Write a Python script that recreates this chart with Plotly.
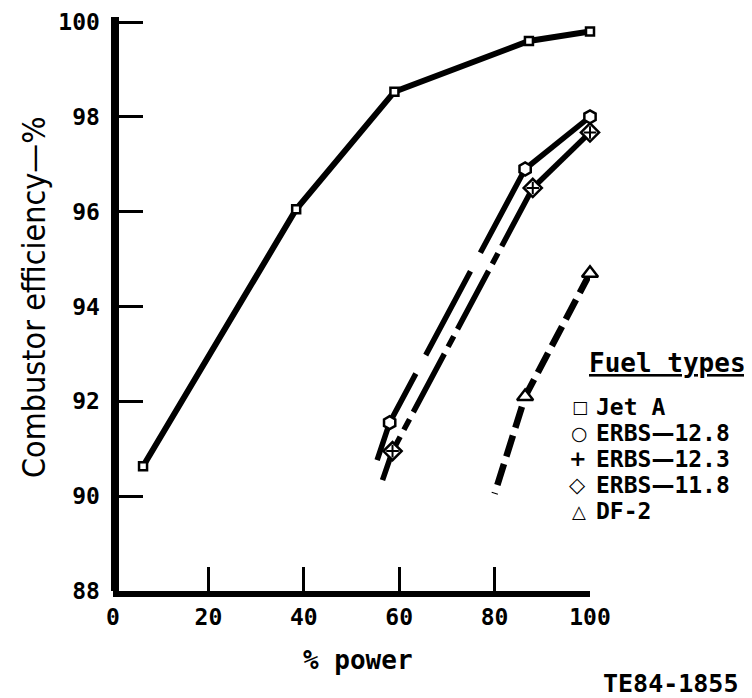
import plotly.graph_objects as go

# ---------------- data ----------------
power_jet_a = [6.3, 38.4, 59.0, 87.2, 100.0]
eff_jet_a = [90.63, 96.05, 98.53, 99.6, 99.8]

power_erbs128 = [58.0, 86.4, 100.0]
eff_erbs128 = [91.55, 96.9, 98.0]

power_erbs123 = [58.6, 88.0, 100.0]
eff_erbs123 = [90.95, 96.5, 97.67]

power_erbs118 = [58.6, 88.0, 100.0]
eff_erbs118 = [90.95, 96.5, 97.67]

power_df2 = [86.4, 100.0]
eff_df2 = [92.1, 94.7]

# faired curves (upper solid part and lower broken part)
curve128_upper_power = [100.0, 86.4]
curve128_upper_eff = [98.0, 96.9]
curve128_lower_power = [86.4, 58.0, 55.0]
curve128_lower_eff = [96.9, 91.55, 90.65]

curve_erbs_upper_power = [100.0, 88.0]
curve_erbs_upper_eff = [97.67, 96.5]
curve_erbs_lower_power = [88.0, 58.6, 56.5]
curve_erbs_lower_eff = [96.5, 90.95, 90.34]

curve_df2_power = [100.0, 86.4, 80.0]
curve_df2_eff = [94.7, 92.1, 90.05]

x_ticks = [0, 20, 40, 60, 80, 100]
y_ticks = [88, 90, 92, 94, 96, 98, 100]

legend_title = "Fuel types"
legend_symbols = ["□", "○", "+", "◇", "△"]
legend_labels = ["Jet A", "ERBS—12.8", "ERBS—12.3", "ERBS—11.8", "DF-2"]

# ---------------- layout geometry ----------------
OFF = 8                      # page body margin of the browser
W, H = 752 - OFF, 698 - OFF
L, R, T, B = 105, 162, 9, 107
PW = W - L - R
PH = H - T - B
Y_TOP_PIX = 22               # screen pixel of the 100 % tick
Y_BOT_PIX = 591              # screen pixel of the 88 % baseline
Y_PER_UNIT = (Y_BOT_PIX - Y_TOP_PIX) / 12.0


def px(xs):
    """screen pixel x -> paper fraction"""
    return (xs - OFF - L) / PW


def py(ys):
    """screen pixel y -> paper fraction"""
    return (H - B - (ys - OFF)) / PH


MONO = "DejaVu Sans Mono"
BLACK = "#000000"

fig = go.Figure()

# lines
fig.add_trace(go.Scatter(x=power_jet_a, y=eff_jet_a, mode="lines",
                         line=dict(color=BLACK, width=6), showlegend=False,
                         hoverinfo="skip"))
fig.add_trace(go.Scatter(x=curve128_upper_power, y=curve128_upper_eff, mode="lines",
                         line=dict(color=BLACK, width=5.5), showlegend=False,
                         hoverinfo="skip"))
fig.add_trace(go.Scatter(x=curve128_lower_power, y=curve128_lower_eff, mode="lines",
                         line=dict(color=BLACK, width=5.5, dash="95px,21px"),
                         showlegend=False, hoverinfo="skip"))
fig.add_trace(go.Scatter(x=curve_erbs_upper_power, y=curve_erbs_upper_eff, mode="lines",
                         line=dict(color=BLACK, width=5.5), showlegend=False,
                         hoverinfo="skip"))
fig.add_trace(go.Scatter(x=curve_erbs_lower_power, y=curve_erbs_lower_eff, mode="lines",
                         line=dict(color=BLACK, width=5.5, dash="66px,8px,12px,8px"),
                         showlegend=False, hoverinfo="skip"))
fig.add_trace(go.Scatter(x=curve_df2_power, y=curve_df2_eff, mode="lines",
                         line=dict(color=BLACK, width=6.5, dash="22px,8px"),
                         showlegend=False, hoverinfo="skip"))

# markers
mk_line = dict(color=BLACK, width=2.5)
fig.add_trace(go.Scatter(x=power_jet_a, y=eff_jet_a, mode="markers", name="Jet A",
                         marker=dict(symbol="square", size=8, color="white", line=mk_line),
                         showlegend=False, cliponaxis=False))
fig.add_trace(go.Scatter(x=power_erbs128, y=eff_erbs128, mode="markers", name="ERBS—12.8",
                         marker=dict(symbol="hexagon", size=13, color="white", line=mk_line),
                         showlegend=False, cliponaxis=False))
fig.add_trace(go.Scatter(x=power_erbs118, y=eff_erbs118, mode="markers", name="ERBS—11.8",
                         marker=dict(symbol="diamond", size=14, color="white", line=mk_line),
                         showlegend=False, cliponaxis=False))
fig.add_trace(go.Scatter(x=power_erbs123, y=eff_erbs123, mode="markers", name="ERBS—12.3",
                         marker=dict(symbol="cross-thin", size=9, color=BLACK,
                                     line=dict(color=BLACK, width=2)),
                         showlegend=False, cliponaxis=False))
fig.add_trace(go.Scatter(x=power_df2, y=eff_df2, mode="markers", name="DF-2",
                         marker=dict(symbol="triangle-up", size=14, color="white", line=mk_line),
                         showlegend=False, cliponaxis=False))

DASH_SPAN = '<span style="font-family:DejaVu Sans">—</span>'

annotations = []
# y-axis title
annotations.append(dict(text="Combustor efficiency—%", xref="paper", yref="paper",
                        x=px(34), y=py(297), textangle=-90, showarrow=False,
                        xanchor="center", yanchor="middle",
                        font=dict(family="DejaVu Sans Condensed, DejaVu Sans", size=32,
                                  color=BLACK)))
# x-axis title
annotations.append(dict(text="<b>% power</b>", xref="paper", yref="paper",
                        x=px(358), y=py(660), showarrow=False,
                        xanchor="center", yanchor="middle",
                        font=dict(family=MONO, size=26, color=BLACK)))
# figure id
annotations.append(dict(text="<b>TE84-1855</b>", xref="paper", yref="paper",
                        x=px(670), y=py(683), showarrow=False,
                        xanchor="center", yanchor="middle",
                        font=dict(family=MONO, size=25, color=BLACK)))
# legend
annotations.append(dict(text="<b><u>" + legend_title + "</u></b>", xref="paper", yref="paper",
                        x=px(587), y=py(363), showarrow=False,
                        xanchor="left", yanchor="middle",
                        font=dict(family=MONO, size=26, color=BLACK)))
row_y = [407, 433, 459, 485, 511]
sym_x = [580, 579, 578, 577, 579]
sym_size = [17, 19, 21, 21, 18]
for s, lab, yy, sx, ss in zip(legend_symbols, legend_labels, row_y, sym_x, sym_size):
    annotations.append(dict(text="<b>" + s + "</b>", xref="paper", yref="paper",
                            x=px(sx), y=py(yy), showarrow=False,
                            xanchor="center", yanchor="middle", borderpad=0,
                            font=dict(family="DejaVu Sans", size=ss, color=BLACK)))
    annotations.append(dict(text="<b>" + lab.replace("—", DASH_SPAN) + "</b>",
                            xref="paper", yref="paper",
                            x=px(595), y=py(yy), showarrow=False,
                            xanchor="left", yanchor="middle", borderpad=0,
                            font=dict(family=MONO, size=23, color=BLACK)))

fig.update_layout(
    width=W, height=H,
    margin=dict(l=L, r=R, t=T, b=B, pad=0, autoexpand=False),
    paper_bgcolor="white", plot_bgcolor="white",
    showlegend=False,
    annotations=annotations,
    xaxis=dict(range=[0, 100], tickvals=x_ticks, ticktext=[str(v) for v in x_ticks],
               automargin=False,
               showgrid=False, zeroline=False, showline=True, linecolor=BLACK, linewidth=6,
               ticks="inside", ticklen=24, tickwidth=3, tickcolor=BLACK,
               tickfont=dict(family=MONO, size=23, color=BLACK, weight="bold"),
               ticklabelstandoff=0, fixedrange=True),
    yaxis=dict(range=[88 - (Y_BOT_PIX - OFF - (H - B)) / Y_PER_UNIT,
                      100 + (Y_TOP_PIX - OFF - T) / Y_PER_UNIT],
               tickvals=y_ticks, ticktext=[str(v) for v in y_ticks],
               anchor="free", position=px(114.5), automargin=False,
               showgrid=False, zeroline=False, showline=True, linecolor=BLACK, linewidth=8,
               ticks="inside", ticklen=24, tickwidth=3, tickcolor=BLACK,
               tickfont=dict(family=MONO, size=23, color=BLACK, weight="bold"),
               ticklabelstandoff=6, fixedrange=True),
)

fig.write_html("out.html")
